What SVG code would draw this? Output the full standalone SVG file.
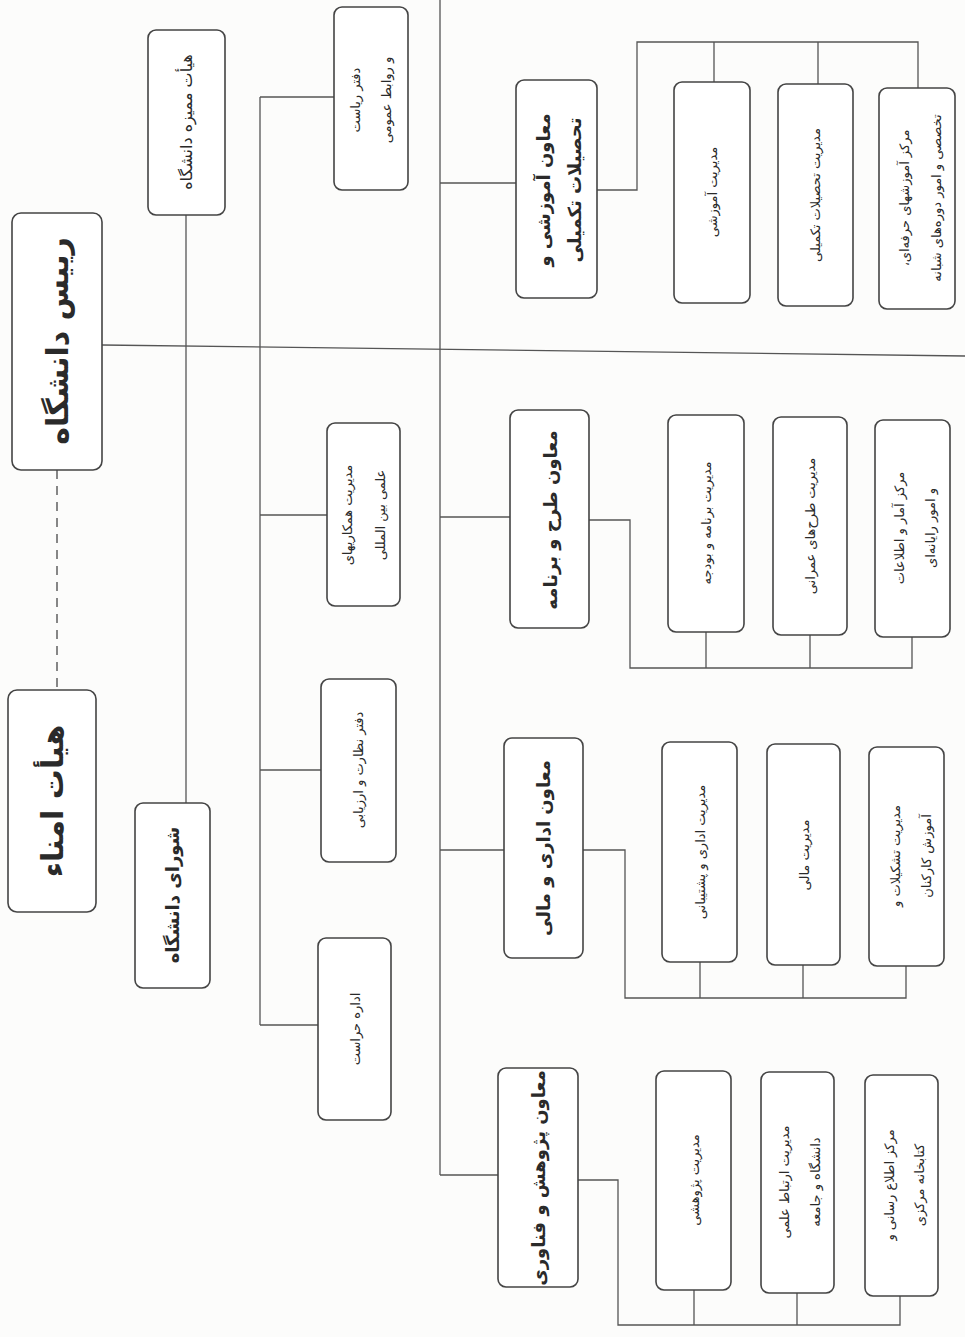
<svg xmlns="http://www.w3.org/2000/svg" width="965" height="1337" viewBox="0 0 965 1337">
<style>
.box{fill:#fff;stroke:#444;stroke-width:1.6}
.ln{fill:none;stroke:#555;stroke-width:1.3}
.dash{fill:none;stroke:#555;stroke-width:1.4;stroke-dasharray:9,7}
text{font-family:"DejaVu Sans","Noto Sans",sans-serif;fill:#2a2a2a;text-anchor:middle;dominant-baseline:central;direction:rtl;unicode-bidi:embed}
.t1{font-size:30px;font-weight:bold}
.t2{font-size:18px;font-weight:bold}
.t3{font-size:16px}
.t4{font-size:13px}
</style>
<rect width="965" height="1337" fill="#fcfcfb"/>
<g id="connectors">
<path class="dash" d="M57,470 V690"/>
<path class="ln" d="M102,345 L965,356"/>
<path class="ln" d="M186,215 V803"/>
<path class="ln" d="M260,97 V1025 M260,97 H334 M260,515 H327 M260,770 H321 M260,1025 H318"/>
<path class="ln" d="M440,0 V1175 M440,183 H516 M440,517 H510 M440,850 H504 M440,1175 H498"/>
<path class="ln" d="M597,190 H637 V42 H918 V88 M714,42 V82 M818,42 V84"/>
<path class="ln" d="M589,520 H630 V668 H912 V637 M706,668 V632 M810,668 V635"/>
<path class="ln" d="M583,850 H625 V998 H906 V966 M700,998 V962 M803,998 V965"/>
<path class="ln" d="M578,1180 H618 V1325 H900 V1296 M694,1325 V1290 M797,1325 V1293"/>
</g>
<g id="raees"><rect class="box" x="12" y="213" width="90" height="257" rx="9"/><text class="t1" transform="translate(57,341) rotate(-90)">رییس دانشگاه</text></g>
<g id="omana"><rect class="box" x="8" y="690" width="88" height="222" rx="9"/><text class="t1" transform="translate(52,801) rotate(-90)">هیأت امناء</text></g>
<g id="momayyeze"><rect class="box" x="148" y="30" width="77" height="185" rx="8"/><text class="t3" transform="translate(186,122) rotate(-90)">هیأت ممیزه دانشگاه</text></g>
<g id="shoura"><rect class="box" x="135" y="803" width="75" height="185" rx="8"/><text class="t2" transform="translate(172,895) rotate(-90)">شورای دانشگاه</text></g>
<g id="riasat"><rect class="box" x="334" y="7" width="74" height="183" rx="8"/><text class="t4" transform="translate(355,100) rotate(-90)">دفتر ریاست</text><text class="t4" transform="translate(386,100) rotate(-90)">و روابط عمومی</text></g>
<g id="hamkari"><rect class="box" x="327" y="423" width="73" height="183" rx="8"/><text class="t4" transform="translate(347,515) rotate(-90)">مدیریت همکاریهای</text><text class="t4" transform="translate(380,515) rotate(-90)">علمی بین المللی</text></g>
<g id="nezarat"><rect class="box" x="321" y="679" width="75" height="183" rx="8"/><text class="t4" transform="translate(358,770) rotate(-90)">دفتر نظارت و ارزیابی</text></g>
<g id="herasat"><rect class="box" x="318" y="938" width="73" height="182" rx="8"/><text class="t4" transform="translate(355,1029) rotate(-90)">اداره حراست</text></g>
<g id="moaven-amuzeshi"><rect class="box" x="516" y="80" width="81" height="218" rx="8"/><text class="t2" transform="translate(543,190) rotate(-90)">معاون آموزشی و</text><text class="t2" transform="translate(574,190) rotate(-90)">تحصیلات تکمیلی</text></g>
<g id="moaven-tarh"><rect class="box" x="510" y="410" width="79" height="218" rx="8"/><text class="t2" transform="translate(550,520) rotate(-90)">معاون طرح و برنامه</text></g>
<g id="moaven-edari"><rect class="box" x="504" y="738" width="79" height="220" rx="8"/><text class="t2" transform="translate(543,848) rotate(-90)">معاون اداری و مالی</text></g>
<g id="moaven-pajuhesh"><rect class="box" x="498" y="1068" width="80" height="219" rx="8"/><text class="t2" transform="translate(538,1178) rotate(-90)">معاون پژوهش و فناوری</text></g>
<g id="mod-amuzeshi"><rect class="box" x="674" y="82" width="76" height="221" rx="8"/><text class="t4" transform="translate(712,192) rotate(-90)">مدیریت آموزشی</text></g>
<g id="mod-takmili"><rect class="box" x="778" y="84" width="75" height="222" rx="8"/><text class="t4" transform="translate(815,195) rotate(-90)">مدیریت تحصیلات تکمیلی</text></g>
<g id="markaz-herfei"><rect class="box" x="879" y="88" width="76" height="221" rx="8"/><text class="t4" transform="translate(904,198) rotate(-90)">مرکز آموزشهای حرفه‌ای،</text><text class="t4" transform="translate(936,198) rotate(-90)">تخصصی و امور دوره‌های شبانه</text></g>
<g id="mod-budje"><rect class="box" x="668" y="415" width="76" height="217" rx="8"/><text class="t4" transform="translate(706,523) rotate(-90)">مدیریت برنامه و بودجه</text></g>
<g id="mod-omrani"><rect class="box" x="773" y="417" width="74" height="218" rx="8"/><text class="t4" transform="translate(810,526) rotate(-90)">مدیریت طرح‌های عمرانی</text></g>
<g id="markaz-amar"><rect class="box" x="875" y="420" width="75" height="217" rx="8"/><text class="t4" transform="translate(899,528) rotate(-90)">مرکز آمار و اطلاعات</text><text class="t4" transform="translate(930,528) rotate(-90)">و امور رایانه‌ای</text></g>
<g id="mod-edari"><rect class="box" x="662" y="742" width="75" height="220" rx="8"/><text class="t4" transform="translate(700,852) rotate(-90)">مدیریت اداری و پشتیبانی</text></g>
<g id="mod-mali"><rect class="box" x="767" y="744" width="73" height="221" rx="8"/><text class="t4" transform="translate(804,855) rotate(-90)">مدیریت مالی</text></g>
<g id="mod-tashkilat"><rect class="box" x="869" y="747" width="75" height="219" rx="8"/><text class="t4" transform="translate(895,856) rotate(-90)">مدیریت تشکیلات و</text><text class="t4" transform="translate(926,856) rotate(-90)">آموزش کارکنان</text></g>
<g id="mod-pajuheshi"><rect class="box" x="656" y="1071" width="75" height="219" rx="8"/><text class="t4" transform="translate(694,1180) rotate(-90)">مدیریت پژوهشی</text></g>
<g id="mod-ertebat"><rect class="box" x="761" y="1072" width="73" height="221" rx="8"/><text class="t4" transform="translate(784,1182) rotate(-90)">مدیریت ارتباط علمی</text><text class="t4" transform="translate(815,1182) rotate(-90)">دانشگاه و جامعه</text></g>
<g id="markaz-etela"><rect class="box" x="865" y="1075" width="73" height="221" rx="8"/><text class="t4" transform="translate(889,1185) rotate(-90)">مرکز اطلاع رسانی و</text><text class="t4" transform="translate(919,1185) rotate(-90)">کتابخانه مرکزی</text></g>
</svg>
